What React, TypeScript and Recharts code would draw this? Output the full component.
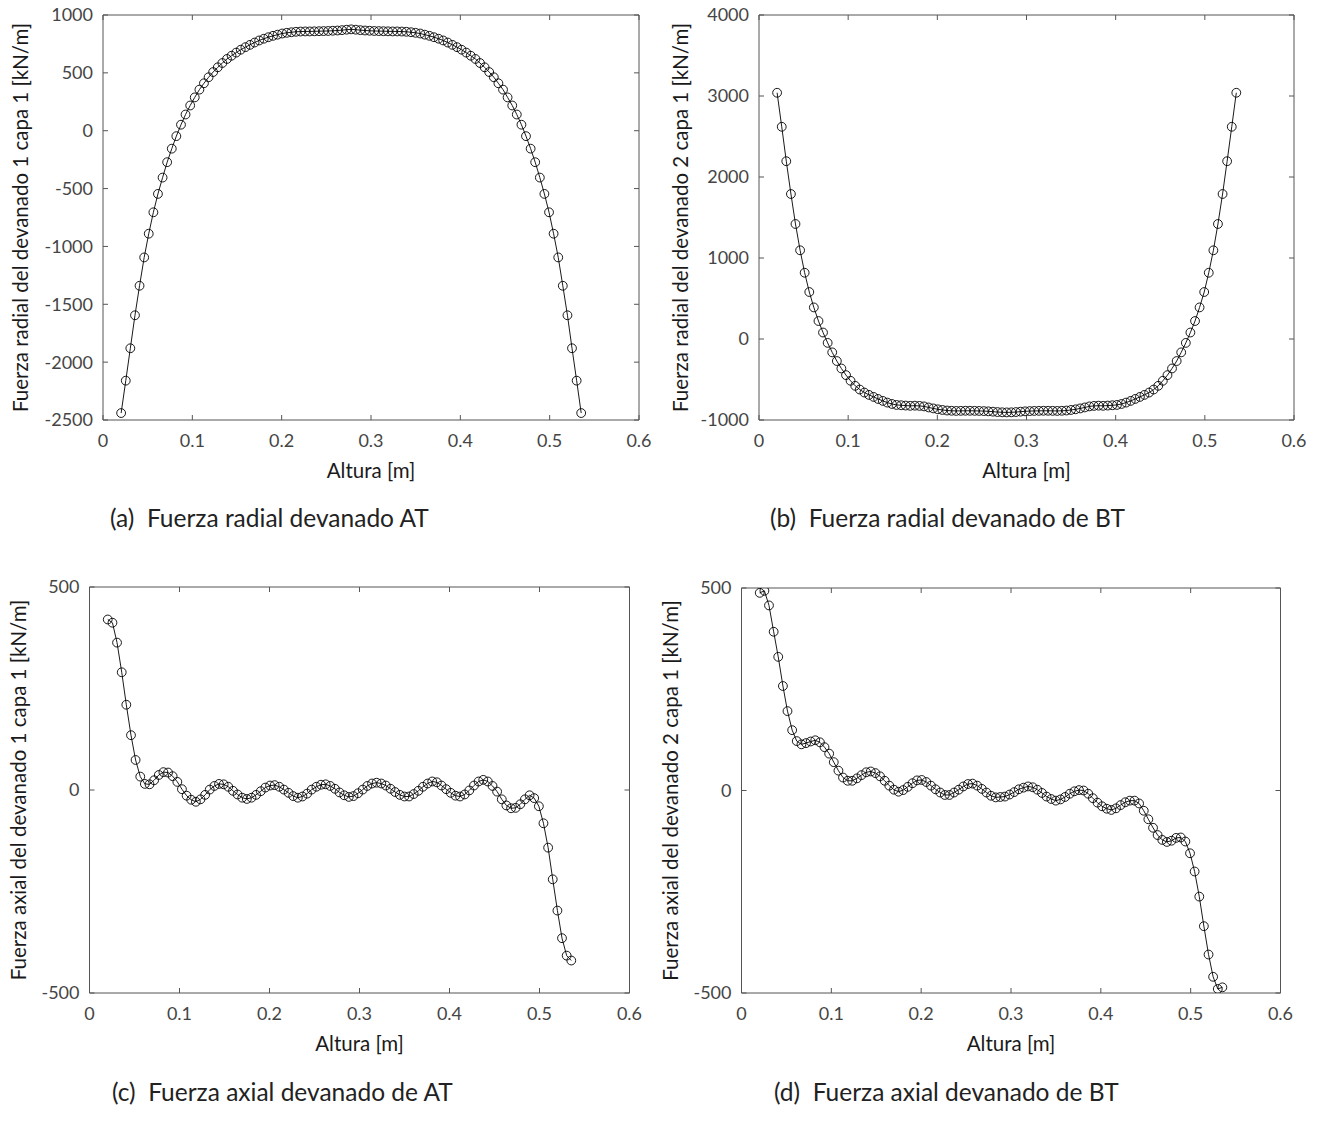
import React from 'react';
import { LineChart, Line, XAxis, YAxis, Label } from 'recharts';

// Altura [m] of each calculation point (same grid for the four plots)
const altura = [
  0.0203, 0.0255, 0.0306, 0.0358, 0.0409, 0.0461, 0.0512, 0.0564, 0.0615, 0.0667,
  0.0718, 0.077, 0.0821, 0.0873, 0.0924, 0.0976, 0.1027, 0.1079, 0.113, 0.1182,
  0.1233, 0.1285, 0.1336, 0.1388, 0.1439, 0.1491, 0.1542, 0.1594, 0.1645, 0.1697,
  0.1748, 0.18, 0.1851, 0.1903, 0.1954, 0.2006, 0.2057, 0.2109, 0.216, 0.2212,
  0.2263, 0.2315, 0.2366, 0.2418, 0.2469, 0.2521, 0.2572, 0.2624, 0.2675, 0.2727,
  0.2778, 0.283, 0.2881, 0.2933, 0.2984, 0.3036, 0.3087, 0.3139, 0.319, 0.3242,
  0.3293, 0.3345, 0.3396, 0.3448, 0.3499, 0.3551, 0.3602, 0.3654, 0.3705, 0.3757,
  0.3808, 0.386, 0.3911, 0.3963, 0.4014, 0.4066, 0.4117, 0.4169, 0.422, 0.4272,
  0.4323, 0.4375, 0.4426, 0.4478, 0.4529, 0.4581, 0.4632, 0.4684, 0.4735, 0.4787,
  0.4838, 0.489, 0.4941, 0.4993, 0.5044, 0.5096, 0.5147, 0.5199, 0.525, 0.5302,
  0.5353,
];

// (a) fuerza radial devanado AT [kN/m]
const radialAT = [
  -2440, -2160, -1880, -1595, -1340, -1095, -890, -705, -546, -405,
  -272, -155, -47, 52, 140, 218, 288, 355, 410, 462,
  507, 548, 585, 620, 648, 675, 700, 722, 742, 762,
  780, 795, 808, 820, 830, 840, 846, 851, 855, 857,
  858, 858, 859, 860, 861, 862, 864, 866, 869, 873,
  876, 873, 869, 866, 864, 862, 861, 860, 859, 858,
  858, 857, 855, 851, 846, 840, 830, 820, 808, 795,
  780, 762, 742, 722, 700, 675, 648, 620, 585, 548,
  507, 462, 410, 355, 288, 218, 140, 52, -47, -155,
  -272, -405, -546, -705, -890, -1095, -1340, -1595, -1880, -2160,
  -2440,
];

// (b) fuerza radial devanado BT [kN/m]
const radialBT = [
  3040, 2620, 2195, 1790, 1420, 1095, 818, 580, 390, 222,
  80, -48, -165, -272, -364, -446, -516, -578, -624, -661,
  -690, -715, -740, -764, -785, -802, -814, -818, -822, -825,
  -823, -826, -832, -845, -857, -868, -876, -883, -886, -888,
  -887, -886, -886, -887, -888, -890, -893, -897, -902, -905,
  -906, -905, -902, -897, -893, -890, -888, -887, -886, -886,
  -887, -888, -886, -883, -876, -868, -857, -845, -832, -826,
  -823, -825, -822, -818, -814, -802, -785, -764, -740, -715,
  -690, -661, -624, -578, -516, -446, -364, -272, -165, -48,
  80, 222, 390, 580, 818, 1095, 1420, 1790, 2195, 2620,
  3040,
];

// (c) fuerza axial devanado AT [kN/m]
const axialAT = [
  420, 412, 363, 290, 210, 135, 74, 33, 15, 14,
  24, 37, 44, 43, 34, 20, 2, -14, -24, -29,
  -23, -12, 1, 10, 15, 14, 8, -2, -11, -19,
  -22, -19, -12, -3, 6, 11, 12, 8, 1, -7,
  -15, -19, -16, -9, 1, 8, 13, 14, 10, 3,
  -6, -13, -17, -15, -8, 1, 10, 16, 18, 16,
  11, 3, -5, -12, -16, -16, -10, -2, 8, 16,
  21, 19, 11, 2, -7, -14, -16, -11, -1, 11,
  21, 25, 21, 10, -4, -23, -38, -45, -44, -35,
  -23, -13, -20, -40, -82, -142, -220, -297, -365, -408,
  -420,
];

// (d) fuerza axial devanado BT [kN/m]
const axialBT = [
  488, 493, 457, 392, 330, 258, 196, 149, 122, 114,
  117, 121, 124, 119, 107, 91, 70, 49, 32, 24,
  24, 30, 38, 45, 47, 43, 35, 24, 12, 2,
  -3, 1, 9, 18, 25, 26, 21, 12, 3, -5,
  -11, -11, -5, 2, 10, 16, 17, 12, 4, -5,
  -13, -17, -16, -15, -10, -4, 3, 7, 10, 8,
  2, -6, -15, -21, -25, -22, -16, -8, -2, 1,
  0, -8, -19, -30, -39, -45, -48, -44, -36, -29,
  -25, -25, -32, -50, -71, -92, -110, -122, -127, -124,
  -117, -116, -126, -155, -200, -262, -335, -405, -460, -490,
  -486,
];

const xTicks = [0, 0.1, 0.2, 0.3, 0.4, 0.5, 0.6];
const yTicksRadialAT = [-2500, -2000, -1500, -1000, -500, 0, 500, 1000];
const yTicksRadialBT = [-1000, 0, 1000, 2000, 3000, 4000];
const yTicksAxial = [-500, 0, 500];

const FONT = 'Lato, "Open Sans", sans-serif';
const AXIS = '#555';
const TICK = { fill: '#454545', fontSize: 18 };

type PanelProps = {
  values: number[];
  yTicks: number[];
  yLabel: string;
  left: number;
  top: number;
  width: number;
  height: number;
  plotL: number;
  plotR: number;
  plotT: number;
  plotB: number;
  yTitleX: number;
};

function Panel(p: PanelProps) {
  const data = altura.map((x, i) => ({ x, y: p.values[i] }));
  const xh = 40;
  const yw = p.plotL - p.left;
  // top / right box axes take 1px each
  const margin = {
    top: p.plotT - p.top - 1,
    right: p.left + p.width - p.plotR - 1,
    bottom: p.top + p.height - p.plotB - xh,
    left: 0,
  };
  const domainY = [p.yTicks[0], p.yTicks[p.yTicks.length - 1]];
  const cx = (p.plotL + p.plotR) / 2 - p.left;
  const cy = (p.plotT + p.plotB) / 2 - p.top;
  const titleStyle = { fontSize: 20.5, fill: '#1a1a1a', fontFamily: FONT };

  return (
    <div style={{ position: 'absolute', left: p.left, top: p.top }}>
      <LineChart width={p.width} height={p.height} data={data} margin={margin}>
        <XAxis
          dataKey="x"
          type="number"
          domain={[0, 0.6]}
          ticks={xTicks}
          interval={0}
          height={xh}
          tickSize={-5}
          tickMargin={19}
          stroke={AXIS}
          tick={TICK}
          allowDataOverflow
        >
          <Label
            content={() => (
              <text x={cx} y={p.plotB - p.top + 50} textAnchor="middle" dominantBaseline="central" style={titleStyle}>
                Altura [m]
              </text>
            )}
          />
        </XAxis>
        <XAxis
          xAxisId="top"
          dataKey="x"
          orientation="top"
          type="number"
          domain={[0, 0.6]}
          ticks={xTicks}
          interval={0}
          height={1}
          tickSize={-5}
          tickFormatter={() => ''}
          stroke={AXIS}
          allowDataOverflow
        />
        <YAxis
          type="number"
          domain={domainY}
          ticks={p.yTicks}
          interval={0}
          width={yw}
          tickSize={-5}
          tickMargin={15}
          stroke={AXIS}
          tick={TICK}
          allowDataOverflow
        >
          <Label
            content={() => (
              <text
                x={p.yTitleX - p.left}
                y={cy}
                textAnchor="middle"
                dominantBaseline="central"
                transform={`rotate(-90 ${p.yTitleX - p.left} ${cy})`}
                style={titleStyle}
              >
                {p.yLabel}
              </text>
            )}
          />
        </YAxis>
        <YAxis
          yAxisId="right"
          orientation="right"
          type="number"
          domain={domainY}
          ticks={p.yTicks}
          interval={0}
          width={1}
          tickSize={-5}
          tickFormatter={() => ''}
          stroke={AXIS}
          allowDataOverflow
        />
        {/* invisible copy bound to the box axes so that they are drawn */}
        <Line
          xAxisId="top"
          yAxisId="right"
          type="linear"
          dataKey="y"
          stroke="none"
          dot={false}
          activeDot={false}
          isAnimationActive={false}
        />
        <Line
          type="linear"
          dataKey="y"
          stroke="#000"
          strokeWidth={0.9}
          dot={{ r: 4.4, fill: 'none', stroke: '#000', strokeWidth: 0.9 }}
          activeDot={false}
          isAnimationActive={false}
        />
      </LineChart>
    </div>
  );
}

function Caption({ text, left, top }: { text: string; left: number; top: number }) {
  return (
    <div
      style={{
        position: 'absolute',
        left,
        top,
        fontFamily: FONT,
        fontSize: 24.5,
        lineHeight: '30px',
        color: '#222',
        whiteSpace: 'pre',
      }}
    >
      {text}
    </div>
  );
}

export default function App() {
  return (
    <div style={{ position: 'absolute', left: 0, top: 0, width: 1320, height: 1130, background: '#fff', fontFamily: FONT }}>
      <Panel
        values={radialAT}
        yTicks={yTicksRadialAT}
        yLabel="Fuerza radial del devanado 1 capa 1 [kN/m]"
        left={0} top={0} width={660} height={500}
        plotL={103} plotR={639} plotT={15} plotB={420}
        yTitleX={20}
      />
      <Panel
        values={radialBT}
        yTicks={yTicksRadialBT}
        yLabel="Fuerza radial del devanado 2 capa 1 [kN/m]"
        left={660} top={0} width={660} height={500}
        plotL={759} plotR={1294} plotT={15} plotB={420}
        yTitleX={680}
      />
      <Panel
        values={axialAT}
        yTicks={yTicksAxial}
        yLabel="Fuerza axial del devanado 1 capa 1 [kN/m]"
        left={0} top={570} width={650} height={500}
        plotL={89.5} plotR={629.5} plotT={587} plotB={993}
        yTitleX={18}
      />
      <Panel
        values={axialBT}
        yTicks={yTicksAxial}
        yLabel="Fuerza axial del devanado 2 capa 1 [kN/m]"
        left={650} top={570} width={670} height={500}
        plotL={741.5} plotR={1280.5} plotT={588} plotB={993}
        yTitleX={670}
      />
      <Caption text="(a)  Fuerza radial devanado AT" left={110} top={503} />
      <Caption text="(b)  Fuerza radial devanado de BT" left={770} top={503} />
      <Caption text="(c)  Fuerza axial devanado de AT" left={112} top={1077} />
      <Caption text="(d)  Fuerza axial devanado de BT" left={774} top={1077} />
    </div>
  );
}
